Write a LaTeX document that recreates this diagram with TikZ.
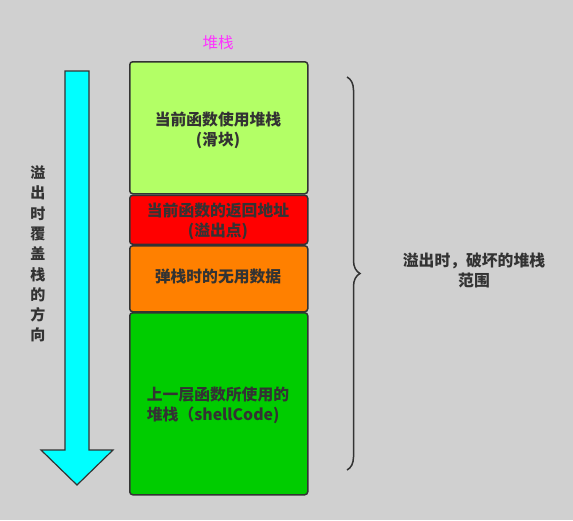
\documentclass[tikz,border=0pt]{standalone}
\usepackage{fontspec}
\setmainfont{Noto Sans CJK SC}
\newfontfamily\cjk{Noto Sans CJK SC}
\usetikzlibrary{decorations.pathreplacing}
\definecolor{bg}{HTML}{D0D0D0}
\definecolor{edge}{HTML}{333333}
\definecolor{txt}{HTML}{333333}
\definecolor{c1}{HTML}{B3FF66}
\definecolor{c2}{HTML}{FF0000}
\definecolor{c3}{HTML}{FF8000}
\definecolor{c4}{HTML}{00CC00}
\definecolor{cy}{HTML}{00FFFF}
\definecolor{mag}{HTML}{FF33FF}
\tikzset{
  stackbox/.style={draw=edge, line width=1.5pt, rounded corners=3pt, minimum width=178pt, anchor=north west, inner sep=0pt},
  boxtext/.style={text=txt, font=\cjk\bfseries\fontsize{15.8}{20}\selectfont, align=center},
  plain/.style={text=txt, font=\cjk\fontsize{15}{20}\selectfont, align=center}
}
\begin{document}
\begin{tikzpicture}[x=1pt,y=-1pt]
\fill[bg] (0,0) rectangle (573,520);
\useasboundingbox (0,0) rectangle (573,520);
% stack boxes
\node[stackbox, fill=c1, minimum height=132pt] (b1) at (129,61) {};
\node[stackbox, fill=c2, minimum height=49pt] (b2) at (129,194.5) {};
\node[stackbox, fill=c3, minimum height=66pt] (b3) at (129,245) {};
\node[stackbox, fill=c4, minimum height=182pt] (b4) at (129,312) {};
\node[boxtext] (t1) at (218,130) {当前函数使用堆栈\\(滑块)};
\node[boxtext] (t2) at (218,221) {当前函数的返回地址\\(溢出点)};
\node[boxtext] (t3) at (218,277) {弹栈时的无用数据};
\node[boxtext, align=left] (t4) at (218,405) {上一层函数所使用的\\堆栈（shellCode)};
\node[text=mag, font=\cjk\fontsize{15.5}{20}\selectfont] (title) at (218,43) {堆栈};
% arrow
\draw[draw=edge, fill=cy, line width=1.2pt, line join=miter]
  (65,71) -- (89,71) -- (89,450) -- (113,450) -- (77,485) -- (41,450) -- (65,450) -- cycle;
\node[plain, font=\cjk\bfseries\fontsize{15}{20.3}\selectfont] (vt) at (38,254)
  {溢\\出\\时\\覆\\盖\\栈\\的\\方\\向};
% brace
\coordinate (bt) at (347,77);
\coordinate (bb) at (347,470);
\draw[edge, line width=1.5pt, decorate, decoration={brace, amplitude=13pt, aspect=0.5}] (bt) -- (bb);
\node[boxtext] (bl) at (474,270) {溢出时，破坏的堆栈\\范围};
\end{tikzpicture}
\end{document}
